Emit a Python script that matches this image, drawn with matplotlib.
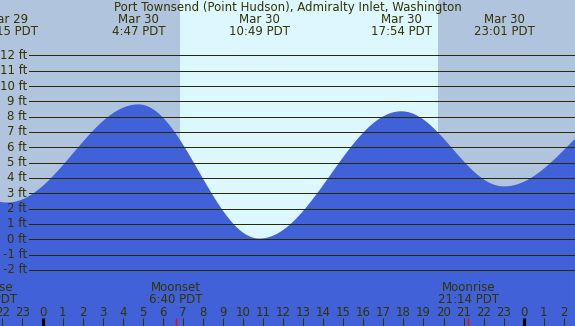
import numpy as np
import matplotlib
matplotlib.use("Agg")
from matplotlib import pyplot as plt
import matplotlib.transforms as mtransforms

# hours relative to Mar 30 00:00 PDT
ext_hours = [-1.75, 4.783, 10.817, 17.9, 23.017, 29.6]
ext_feet = [2.4, 8.8, 0.05, 8.35, 3.45, 9.0]
ext_day = ["Mar 29", "Mar 30", "Mar 30", "Mar 30", "Mar 30"]
ext_time = ["22:15 PDT", "4:47 PDT", "10:49 PDT", "17:54 PDT", "23:01 PDT"]

sunrise, sunset = 6.87, 19.72
moon_hours = [-2.8, 6.667, 21.233]
moon_names = ["Moonrise", "Moonset", "Moonrise"]
moon_time = ["21:12 PDT", "6:40 PDT", "21:14 PDT"]

grid_feet = list(range(-2, 13))
hour_ticks = list(range(-2, 27))

title = "Port Townsend (Point Hudson), Admiralty Inlet, Washington"

W, H = 575, 326
x0, x1 = -42.5 / 20.05, (W - 42.5) / 20.05
ft_px = 15.33
y_zero = 239.3
ylo = (y_zero - H) / ft_px
yhi = y_zero / ft_px

night = "#b0c4de"
day = "#ddf7ff"
water = "#4161d8"
ink = "#333300"


def tide(t):
    th = np.array(ext_hours)
    hh = np.array(ext_feet)
    i = np.clip(np.searchsorted(th, t) - 1, 0, len(th) - 2)
    ph = (t - th[i]) / (th[i + 1] - th[i])
    return hh[i] + (hh[i + 1] - hh[i]) * (1 - np.cos(np.pi * ph)) / 2


fig = plt.figure(figsize=(W / 100, H / 100), dpi=100)
ax = fig.add_axes([0, 0, 1, 1])
ax.set_xlim(x0, x1)
ax.set_ylim(ylo, yhi)
ax.axis("off")
ax.add_patch(plt.Rectangle((x0, ylo), x1 - x0, yhi - ylo, color=night, zorder=0))
ax.axvspan(sunrise, sunset, color=day, zorder=1, lw=0)

t = np.linspace(x0, x1, 1200)
ax.fill_between(t, tide(t), ylo, color=water, lw=0, zorder=2)

# grid lines with labels
gx = x0 + 29 / 20.05
for f in grid_feet:
    ax.plot([gx, x1], [f, f], color="#2a2a00", lw=0.72, zorder=3, antialiased=False)
    ax.text(x0 + 27 / 20.05, f, f"{f} ft", ha="right", va="center",
            fontsize=8.5, color=ink, zorder=4)

tr = mtransforms.blended_transform_factory(ax.transData, ax.transAxes)


def fy(py):
    return 1 - py / H


ax.text(0.5, fy(8), title, transform=ax.transAxes, ha="center", va="center",
        fontsize=8.5, color=ink)
for h, d, s in zip(ext_hours, ext_day, ext_time):
    ax.text(h, fy(19.5), d, transform=tr, ha="center", va="center", fontsize=8.5, color=ink)
    ax.text(h, fy(31.5), s, transform=tr, ha="center", va="center", fontsize=8.5, color=ink)

for h, n, s in zip(moon_hours, moon_names, moon_time):
    ax.text(h, fy(287.5), n, transform=tr, ha="center", va="center", fontsize=8.5, color=ink)
    ax.text(h, fy(299.5), s, transform=tr, ha="center", va="center", fontsize=8.5, color=ink)
    ax.vlines(h, 0, fy(318), transform=tr, color="red", lw=1, zorder=5)

for h in hour_ticks:
    ax.text(h, fy(312), str(h % 24), transform=tr, ha="center", va="center",
            fontsize=8.5, color=ink)
    lw = 3 if h % 24 == 0 else 1
    c = "black" if h % 24 == 0 else ink
    ax.vlines(h, 0, fy(318), transform=tr, color=c, lw=lw * 0.75, zorder=5)

fig.savefig("out.png", dpi=100)
